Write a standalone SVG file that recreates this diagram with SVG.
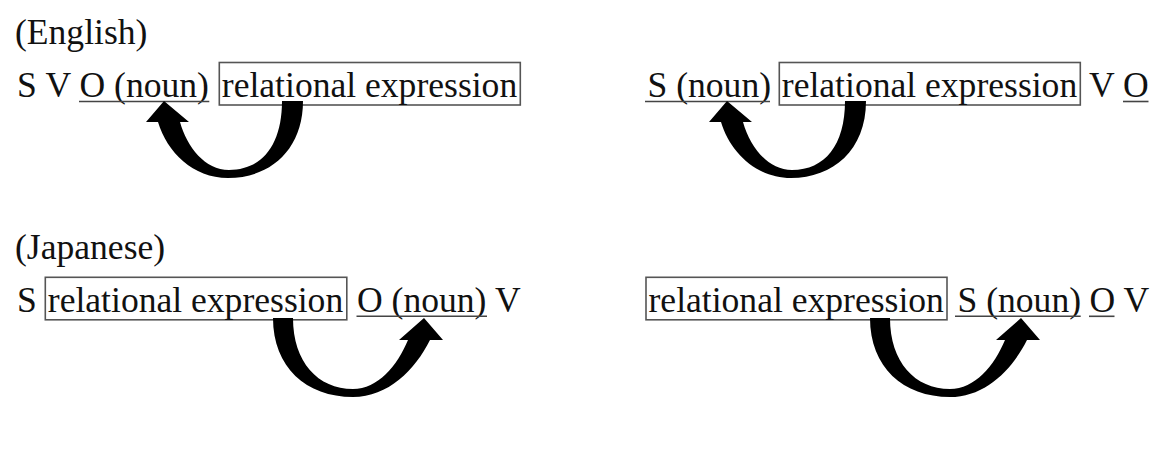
<svg xmlns="http://www.w3.org/2000/svg" width="1159" height="469" viewBox="0 0 1159 469">
<style>
.t{font-family:"Liberation Serif","Times New Roman",serif;font-size:35.6px;fill:#111}
.box{fill:none;stroke:#555;stroke-width:1.6}
.ul{stroke:#444;stroke-width:1.6}
.arr{fill:#000;stroke:none}
</style>
<defs>
<path id="arrL" class="arr" d="M303,101 C303,150 270,178 228,178 C193,178 167,152 158,122 L146,122 L164,101 L189,122 L180,122 C187,147 205,170 229,170 C262,170 282,145 282,101 Z"/>
<path id="arrR" class="arr" d="M273,318 C273,367 306,397 353,397 C388,397 415,370 430,340 L443,340 L424,318 L399,340 L408,340 C397,366 378,389 353,389 C318,389 293,362 293,318 Z"/>
</defs>
<rect width="1159" height="469" fill="#fff"/>

<g id="title-english"><text class="t" x="15" y="44">(English)</text></g>
<g id="title-japanese"><text class="t" x="15" y="259">(Japanese)</text></g>

<!-- Row 1 left -->
<g id="e1-s"><text class="t" x="17" y="97">S</text></g>
<g id="e1-v"><text class="t" x="45.5" y="97">V</text></g>
<g id="e1-o"><text class="t" x="79.5" y="97">O (noun)</text><line class="ul" x1="79" y1="101.5" x2="209.3" y2="101.5"/></g>
<g id="e1-rel"><rect class="box" x="219.3" y="62.5" width="301" height="42.5"/><text class="t" x="221.8" y="97">relational expression</text></g>

<!-- Row 1 right -->
<g id="e2-s"><text class="t" x="647.5" y="97">S (noun)</text><line class="ul" x1="645" y1="101.5" x2="770" y2="101.5"/></g>
<g id="e2-rel"><rect class="box" x="779.3" y="62.5" width="301" height="42.5"/><text class="t" x="781.8" y="97">relational expression</text></g>
<g id="e2-v"><text class="t" x="1089" y="97">V</text></g>
<g id="e2-o"><text class="t" x="1123" y="97">O</text><line class="ul" x1="1123" y1="101.5" x2="1148.5" y2="101.5"/></g>

<!-- Row 2 left -->
<g id="j1-s"><text class="t" x="17" y="312">S</text></g>
<g id="j1-rel"><rect class="box" x="45.3" y="277.3" width="301.5" height="42.5"/><text class="t" x="47.8" y="312">relational expression</text></g>
<g id="j1-o"><text class="t" x="357" y="312">O (noun)</text><line class="ul" x1="356.5" y1="316.3" x2="487" y2="316.3"/></g>
<g id="j1-v"><text class="t" x="495" y="312">V</text></g>

<!-- Row 2 right -->
<g id="j2-rel"><rect class="box" x="646" y="277.3" width="301" height="42.5"/><text class="t" x="648.5" y="312">relational expression</text></g>
<g id="j2-s"><text class="t" x="957.5" y="312">S (noun)</text><line class="ul" x1="955" y1="316.3" x2="1080.7" y2="316.3"/></g>
<g id="j2-o"><text class="t" x="1089.5" y="312">O</text><line class="ul" x1="1089" y1="316.3" x2="1114.5" y2="316.3"/></g>
<g id="j2-v"><text class="t" x="1123.5" y="312">V</text></g>

<g id="connectors">
<use href="#arrL"/>
<use href="#arrL" transform="translate(563,0)"/>
<use href="#arrR"/>
<use href="#arrR" transform="translate(597,0)"/>
</g>
</svg>
